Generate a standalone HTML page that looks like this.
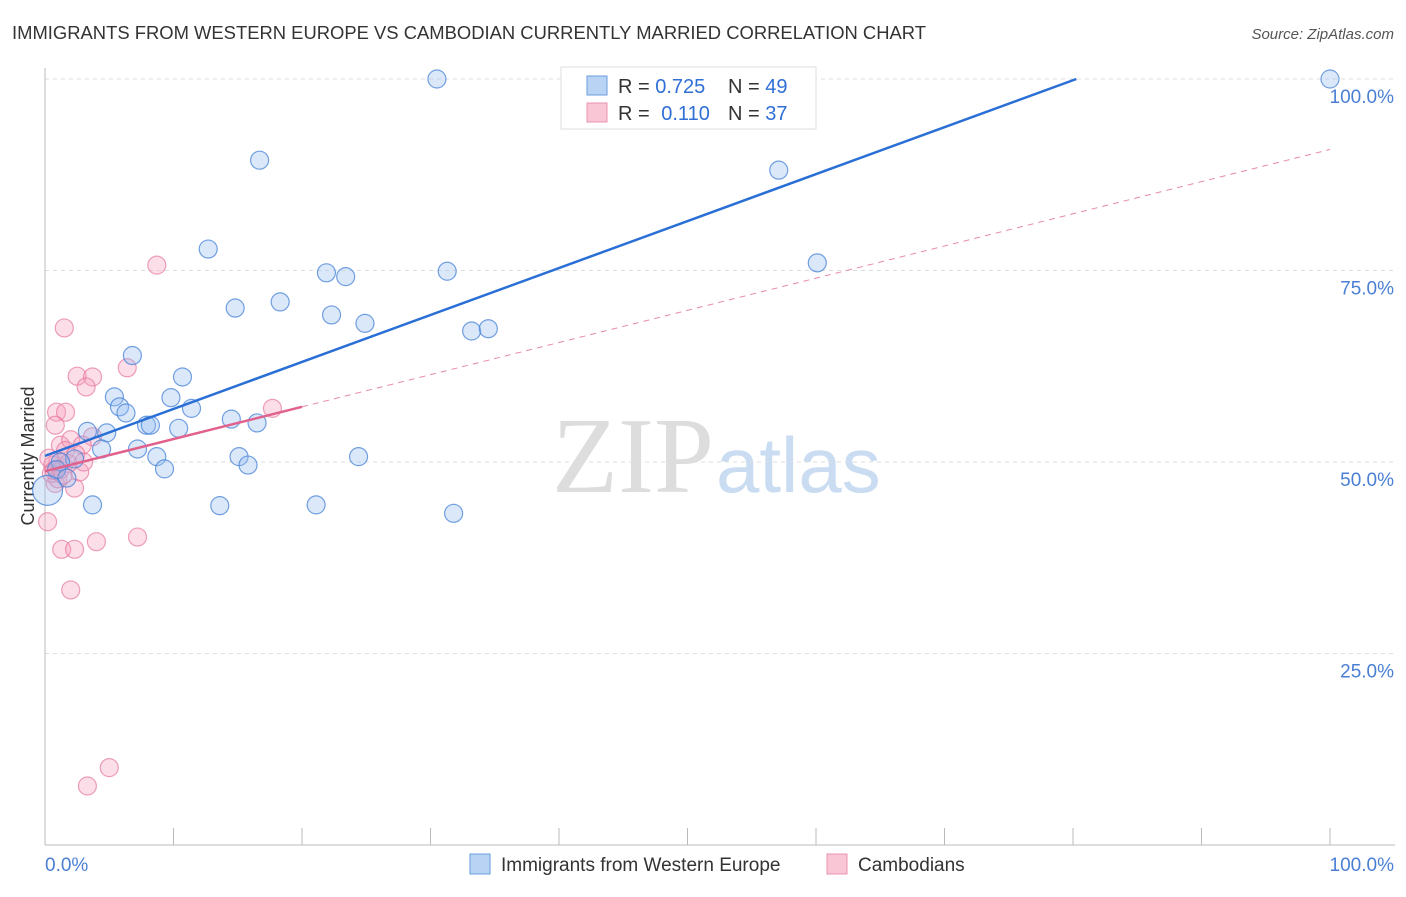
<!DOCTYPE html>
<html><head><meta charset="utf-8"><style>
body{margin:0;background:#fff;font-family:"Liberation Sans",sans-serif;}
</style></head><body>
<svg width="1406" height="892" xmlns="http://www.w3.org/2000/svg" font-family="Liberation Sans, sans-serif">
<text x="12" y="39" font-size="18" fill="#333" textLength="914" lengthAdjust="spacingAndGlyphs">IMMIGRANTS FROM WESTERN EUROPE VS CAMBODIAN CURRENTLY MARRIED CORRELATION CHART</text>
<text x="1394" y="39" font-size="15" fill="#555" font-style="italic" text-anchor="end">Source: ZipAtlas.com</text>
<text x="714" y="492" font-size="108" fill="#ddd" font-family="Liberation Serif, serif" text-anchor="end">ZIP</text>
<text x="716" y="492" font-size="78" fill="#c9dcf2">atlas</text>
<text transform="translate(34,456) rotate(-90)" font-size="18" fill="#333" text-anchor="middle">Currently Married</text>
<g id="grid"></g><g id="pts"></g><g id="lines"></g>
<g>
<rect x="561" y="67" width="255" height="62" fill="#fff" stroke="#ddd"/>
<rect x="587" y="76" width="20" height="19" fill="#b9d3f5" stroke="#6a9ee0"/>
<rect x="587" y="103" width="20" height="19" fill="#f9c6d6" stroke="#e993b0"/>
<text x="618" y="93" font-size="20" fill="#333">R = <tspan fill="#2f6fd6">0.725</tspan></text>
<text x="728" y="93" font-size="20" fill="#333">N = <tspan fill="#2f6fd6">49</tspan></text>
<text x="618" y="120" font-size="20" fill="#333">R = <tspan fill="#2f6fd6" dx="6">0.110</tspan></text>
<text x="728" y="120" font-size="20" fill="#333">N = <tspan fill="#2f6fd6">37</tspan></text>
</g>
<g>
<rect x="470" y="854" width="20" height="20" fill="#b9d3f5" stroke="#6a9ee0"/>
<text x="501" y="871" font-size="19" fill="#333">Immigrants from Western Europe</text>
<rect x="827" y="854" width="20" height="20" fill="#f9c6d6" stroke="#e993b0"/>
<text x="858" y="871" font-size="19" fill="#333">Cambodians</text>
</g>
<text x="45" y="871" font-size="19" fill="#4a7fd4">0.0%</text>
<text x="1394" y="871" font-size="19" fill="#4a7fd4" text-anchor="end">100.0%</text>
</svg>
<script>
const yTicks=[100,75,50,25];
const yTickLabels=["100.0%","75.0%","50.0%","25.0%"];
const xTicks=[10,20,30,40,50,60,70,80,90,100];
const blueX=[30.5,100,16.7,57.1,12.7,21.9,23.4,31.3,60.1,14.8,18.3,22.3,24.9,33.2,34.5,6.8,10.7,5.4,5.8,6.3,9.8,11.4,7.9,8.2,10.4,14.5,16.5,3.3,4.8,4.4,7.2,8.7,9.3,15.1,15.8,24.4,2.3,1.2,0.9,1.7,3.7,13.6,21.1,31.8,0.2];
const blueY=[100,100,89.4,88.1,77.8,74.7,74.2,74.9,76.0,70.1,70.9,69.2,68.1,67.1,67.4,63.9,61.1,58.5,57.2,56.4,58.4,57.0,54.8,54.8,54.4,55.6,55.1,54.0,53.8,51.7,51.7,50.7,49.1,50.7,49.6,50.7,50.4,50.0,49.0,47.9,44.4,44.3,44.4,43.3,46.3];
const pinkX=[8.7,1.5,2.5,3.7,3.2,6.4,0.9,1.6,0.8,17.7,3.7,1.2,2.0,2.9,1.6,1.0,0.6,1.2,2.7,2.3,0.8,0.2,4.0,7.2,1.3,2.3,2.0,5.0,3.3,0.5,1.8,0.3,1.0,2.4,0.7,1.4,3.0];
const pinkY=[75.7,67.5,61.2,61.1,59.8,62.3,56.5,56.5,54.8,57.0,53.3,52.2,52.9,52.2,51.5,50.2,49.6,49.0,48.7,46.6,47.2,42.2,39.6,40.2,38.6,38.6,33.3,10.1,7.7,48.5,49.8,50.5,47.8,51.0,48.9,48.3,50.0];
const blueFit=[50.8,0.613];
const pinkFit=[48.8,0.42];
const X=v=>45+v*12.85, Y=v=>845-v*7.66;
const NS="http://www.w3.org/2000/svg";
function mk(t,a,p){const e=document.createElementNS(NS,t);for(const k in a)e.setAttribute(k,a[k]);p.appendChild(e);return e;}
const g=document.getElementById('grid');
yTicks.forEach((t,i)=>{
 const l=mk('line',{x1:45,x2:1395,y1:Y(t),y2:Y(t),stroke:'#ddd','stroke-dasharray':'4,4'},g);
 
 
 const tx=mk('text',{x:1394,y:Y(t)+24,'font-size':19,fill:'#4a7fd4','text-anchor':'end'},g);tx.textContent=yTickLabels[i];
 
 
});
const ax=mk('line',{x1:45,x2:45,y1:68,y2:845,stroke:'#bbb'},g);


const bx=mk('line',{x1:45,x2:1395,y1:845,y2:845,stroke:'#bbb'},g);


xTicks.forEach(t=>{const l=mk('line',{x1:X(t),x2:X(t),y1:828,y2:845,stroke:'#bbb'},g);
 
 });
const p=document.getElementById('pts');
pinkX.forEach((x,i)=>{const c=mk('circle',{cx:X(x),cy:Y(pinkY[i]),r:9,fill:'rgba(245,160,190,0.35)',stroke:'rgba(230,120,160,0.7)','stroke-width':1.2},p);
 
 });
blueX.forEach((x,i)=>{const c=mk('circle',{cx:X(x),cy:Y(blueY[i]),r:i==blueX.length-1?15:9,fill:'rgba(150,190,240,0.35)',stroke:'rgba(70,130,215,0.75)','stroke-width':1.2},p);
 
 });
const L=document.getElementById('lines');
const bEnd=(100-blueFit[0])/blueFit[1];
const bl=mk('line',{x1:X(0),y1:Y(blueFit[0]),x2:X(bEnd),y2:Y(100),stroke:'#2a6fd6','stroke-width':2.5},L);


const pl=mk('line',{x1:X(0),y1:Y(pinkFit[0]),x2:X(20),y2:Y(pinkFit[0]+20*pinkFit[1]),stroke:'#e0628c','stroke-width':2.5},L);


const pd=mk('line',{x1:X(20),y1:Y(pinkFit[0]+20*pinkFit[1]),x2:X(100),y2:Y(pinkFit[0]+100*pinkFit[1]),stroke:'#e88aa8','stroke-width':1,'stroke-dasharray':'6,5'},L);


</script>
</body></html>
